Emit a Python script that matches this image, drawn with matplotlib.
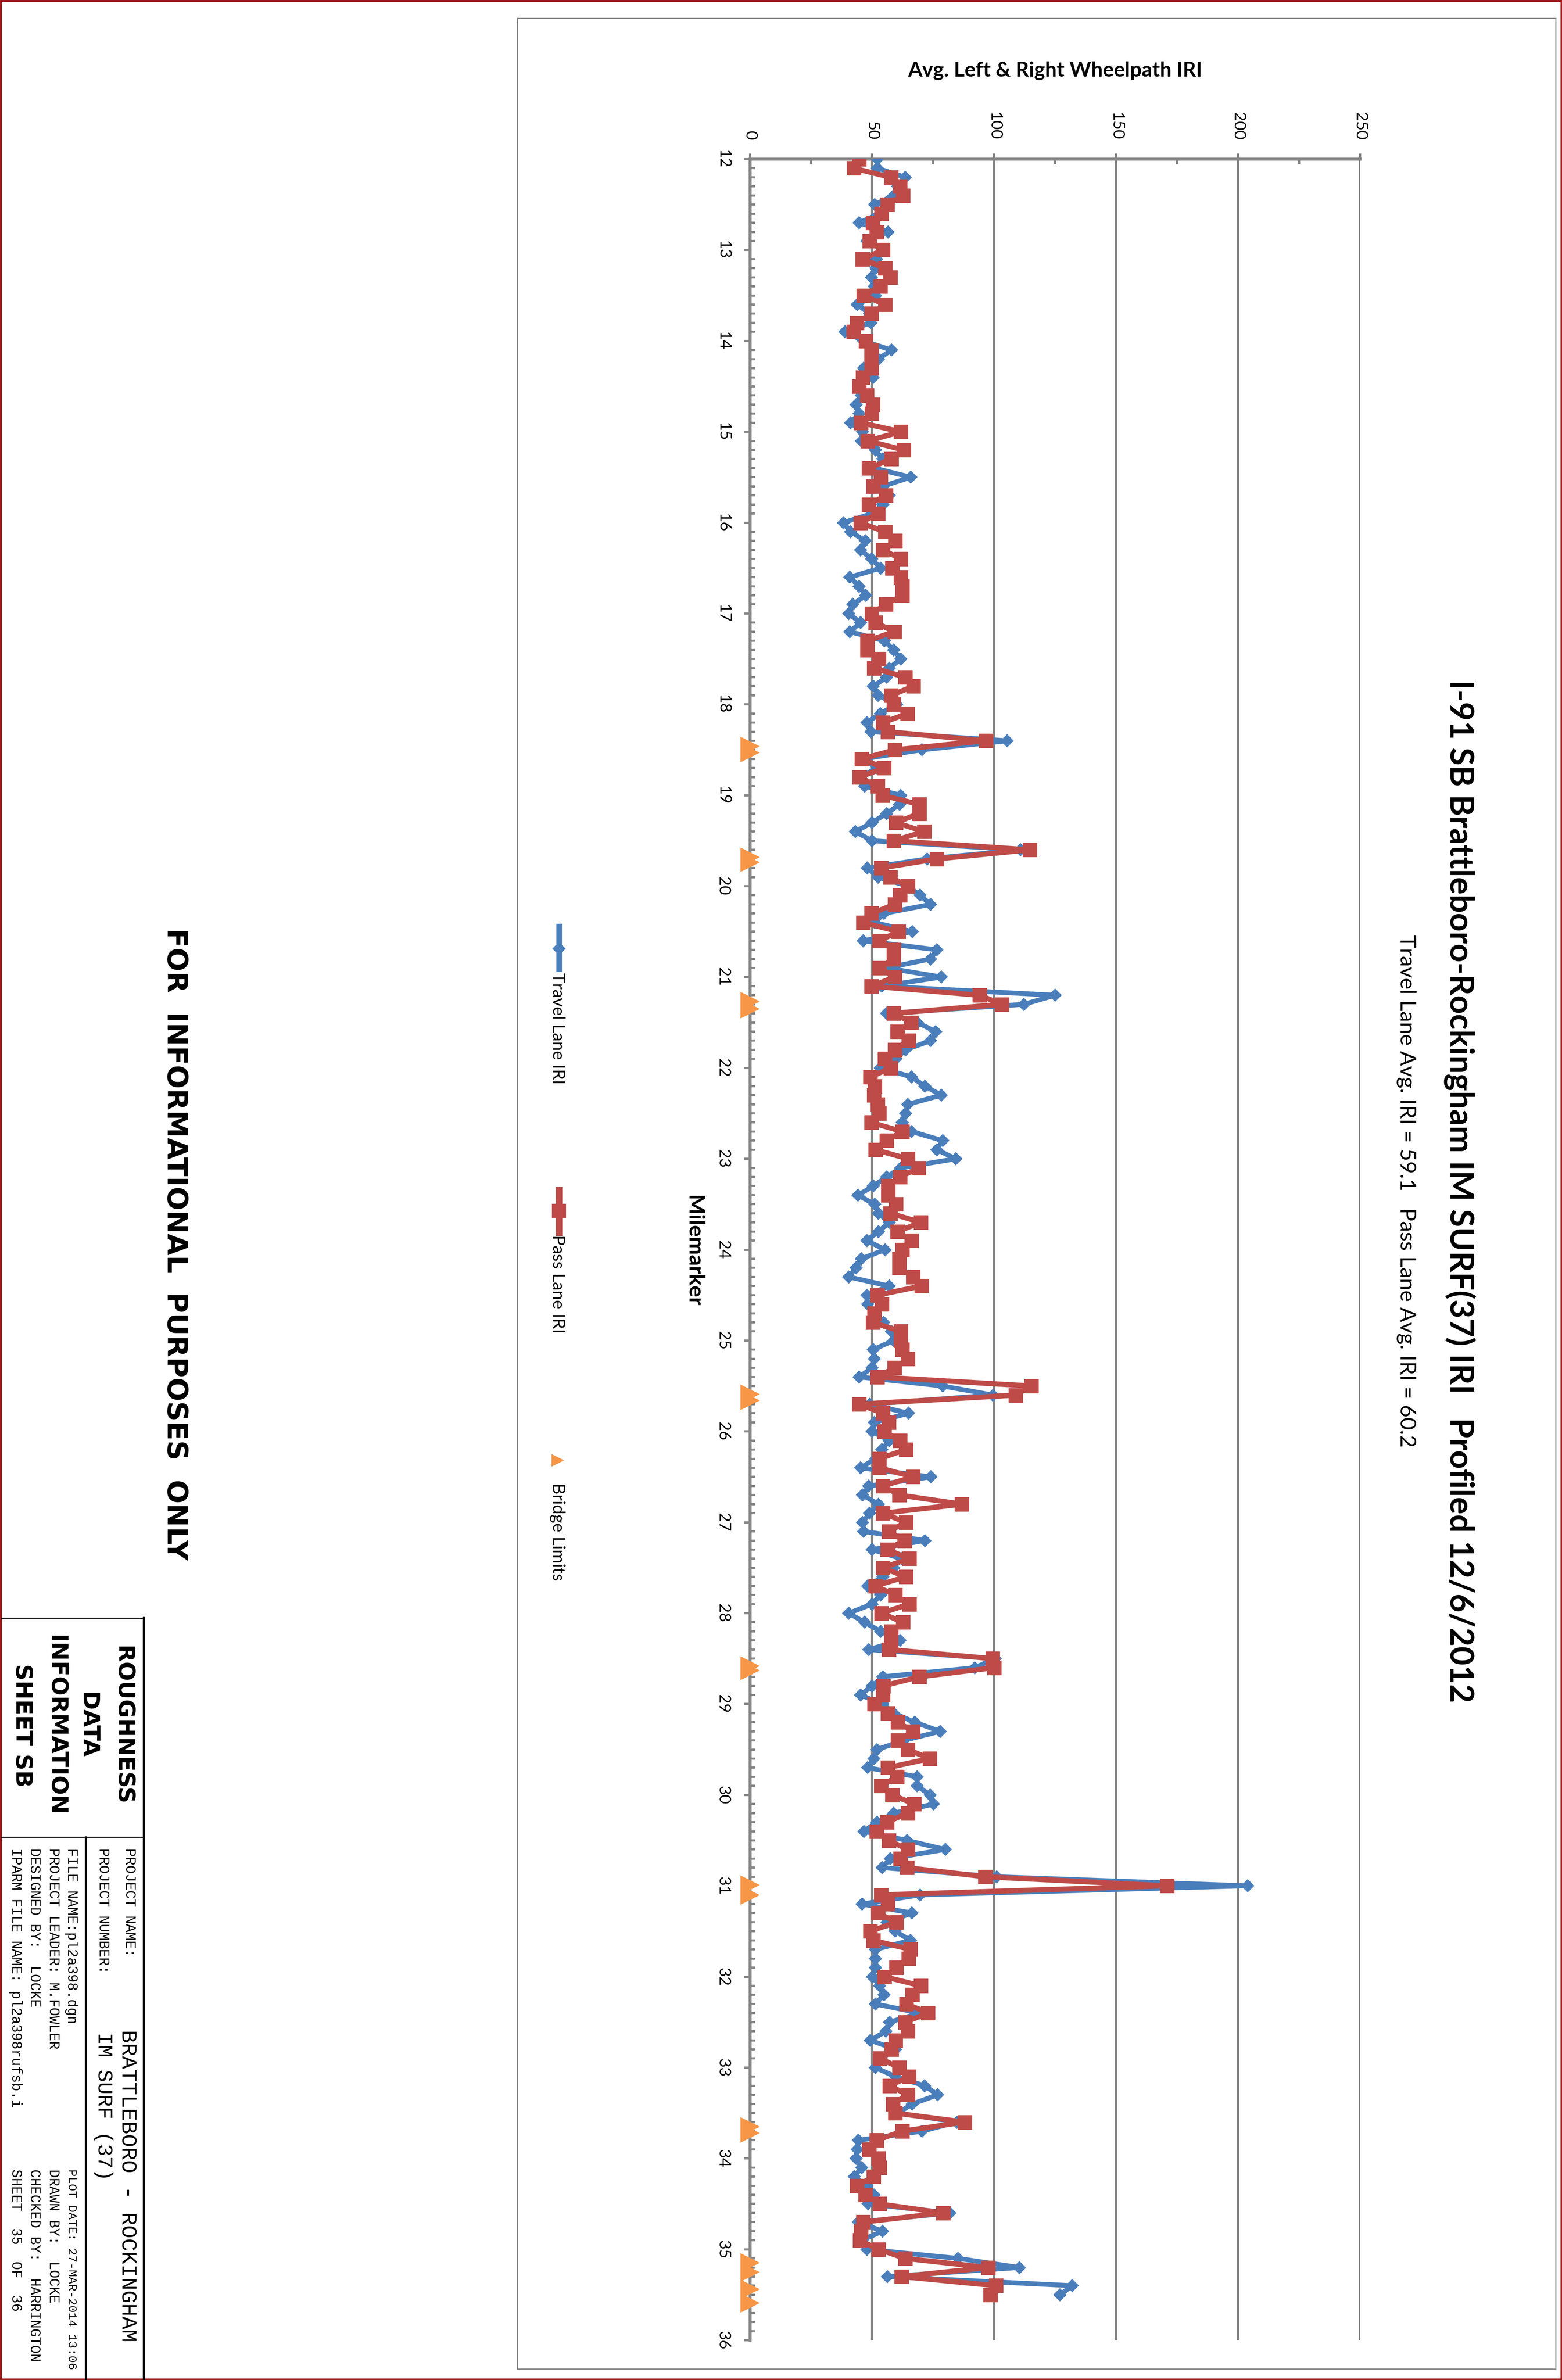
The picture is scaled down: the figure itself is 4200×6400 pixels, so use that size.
import matplotlib
matplotlib.use('Agg')
import matplotlib.pyplot as plt
from matplotlib.lines import Line2D
from matplotlib.patches import Rectangle
from matplotlib.ticker import MultipleLocator

# avg left & right wheelpath IRI, one reading every 0.1 mile from MM 12.0 to 35.5
travel_iri = [
    52.2, 52.2, 63.6, 60.5, 58.8, 51.0, 53.0, 44.7, 56.6, 47.8,   # 12
    54.4, 51.8, 51.5, 49.7, 50.9, 51.3, 43.9, 49.0, 49.6, 38.8,   # 13
    46.5, 57.9, 52.6, 46.5, 50.4, 44.3, 45.6, 43.4, 44.7, 41.2,   # 14
    46.0, 45.6, 51.3, 54.4, 51.0, 65.8, 54.4, 57.0, 54.4, 50.0,   # 15
    38.2, 41.2, 47.2, 45.2, 49.8, 53.5, 40.8, 44.7, 47.4, 42.1,   # 16
    40.4, 45.2, 40.9, 55.0, 58.8, 61.8, 57.0, 56.0, 50.5, 52.5,   # 17
    60.0, 53.4, 47.8, 49.5, 105.4, 70.4, 46.0, 52.0, 45.0, 47.0,  # 18
    61.8, 61.3, 55.9, 50.0, 43.1, 50.0, 110.8, 72.5, 48.0, 52.5,  # 19
    64.7, 69.6, 74.0, 54.9, 51.0, 66.5, 46.3, 76.5, 74.0, 56.0,   # 20
    78.4, 53.9, 125.0, 112.2, 55.9, 68.6, 76.0, 74.0, 63.7, 59.8, # 21
    53.4, 66.2, 71.6, 78.4, 64.7, 63.7, 62.3, 66.2, 78.9, 76.5,   # 22
    84.3, 61.8, 55.9, 50.5, 44.2, 51.0, 52.6, 57.0, 52.6, 47.8,   # 23
    55.3, 45.6, 43.4, 40.4, 57.0, 47.8, 48.2, 50.9, 54.8, 57.9,   # 24
    58.8, 50.4, 50.9, 50.0, 44.7, 78.9, 99.6, 49.1, 64.9, 50.9,   # 25
    50.0, 57.0, 54.0, 51.5, 45.2, 74.1, 48.7, 46.1, 52.6, 49.0,   # 26
    46.1, 46.5, 71.7, 50.0, 62.0, 58.8, 54.4, 48.2, 53.5, 50.0,   # 27
    40.4, 46.9, 53.5, 61.4, 48.7, 100.4, 92.1, 54.4, 50.0, 45.2,  # 28
    54.4, 58.8, 67.5, 77.9, 63.0, 52.0, 50.7, 48.2, 68.4, 68.4,   # 29
    73.8, 75.2, 58.9, 52.0, 46.6, 64.3, 80.0, 57.5, 54.1, 101.0,  # 30
    203.9, 69.7, 45.9, 66.3, 56.1, 59.5, 65.7, 51.4, 51.4, 51.4,  # 31
    50.2, 53.0, 54.9, 51.3, 69.5, 57.2, 55.7, 49.3, 59.6, 53.7,   # 32
    51.3, 59.6, 71.5, 76.9, 66.5, 60.6, 84.7, 70.5, 44.4, 43.9,   # 33
    43.4, 45.7, 42.7, 47.8, 50.8, 48.3, 81.8, 44.4, 54.2, 45.9,   # 34
    47.8, 85.2, 110.3, 56.2, 132.0, 127.0,                        # 35
]

pass_iri = [
    44.7, 42.5, 57.7, 61.4, 62.7, 56.3, 53.8, 50.3, 51.8, 49.0,   # 12
    54.4, 46.0, 55.3, 57.5, 53.3, 46.5, 55.3, 49.7, 43.7, 42.4,   # 13
    47.4, 49.7, 49.7, 49.7, 46.2, 44.7, 47.8, 50.3, 49.8, 45.4,   # 14
    61.8, 48.2, 63.0, 57.9, 48.7, 53.5, 50.4, 55.7, 48.7, 52.5,   # 15
    45.2, 55.3, 59.4, 54.4, 61.8, 58.3, 61.8, 62.3, 62.3, 55.7,   # 16
    49.8, 51.3, 59.2, 48.0, 48.0, 52.8, 50.7, 63.6, 66.9, 57.8,   # 17
    58.8, 64.5, 54.4, 56.4, 96.6, 59.3, 45.8, 54.9, 44.8, 52.3,   # 18
    54.2, 69.3, 69.3, 59.8, 71.3, 58.8, 114.7, 76.5, 53.7, 57.4,  # 19
    64.7, 61.4, 59.3, 49.7, 46.3, 60.8, 52.9, 58.8, 58.8, 52.9,   # 20
    59.3, 49.7, 94.1, 103.2, 58.8, 66.0, 60.3, 64.9, 59.3, 55.2,  # 21
    57.6, 49.3, 51.0, 50.8, 52.3, 52.9, 49.7, 62.3, 55.9, 51.3,   # 22
    64.7, 69.1, 61.5, 56.6, 56.5, 59.7, 57.5, 70.0, 60.3, 66.2,   # 23
    62.3, 61.2, 61.2, 66.8, 70.2, 52.2, 53.9, 50.9, 50.3, 61.7,   # 24
    61.7, 62.3, 64.7, 59.2, 52.2, 115.3, 108.8, 44.7, 54.4, 56.8, # 25
    55.0, 61.4, 63.8, 52.9, 52.9, 66.8, 54.4, 61.2, 86.8, 54.4,   # 26
    63.8, 56.8, 63.2, 56.3, 65.2, 54.4, 63.8, 51.3, 59.4, 65.2,   # 27
    53.8, 62.7, 57.7, 57.7, 56.8, 99.4, 100.0, 69.3, 54.6, 54.4,  # 28
    50.9, 56.4, 60.5, 66.8, 60.5, 64.6, 73.6, 56.4, 60.2, 53.7,   # 29
    58.2, 67.3, 64.6, 56.1, 51.8, 56.8, 64.6, 61.6, 64.3, 96.3,   # 30
    170.9, 53.7, 56.4, 52.5, 59.9, 49.3, 50.4, 65.7, 65.0, 59.9,  # 31
    55.0, 70.0, 66.5, 64.1, 72.9, 63.6, 64.6, 59.6, 57.9, 53.2,   # 32
    61.1, 65.1, 57.2, 64.6, 58.5, 59.4, 87.9, 62.4, 51.8, 48.8,   # 33
    52.6, 53.0, 50.6, 43.7, 47.3, 53.0, 79.1, 46.4, 45.4, 44.9,   # 34
    52.6, 63.6, 97.5, 62.1, 100.8, 98.5,                          # 35
]

# milemarker of each reading (0.1 mile category steps)
milemarker = [round(12 + i / 10, 1) for i in range(len(travel_iri))]

# bridge start / end milemarkers, drawn on the zero line
bridge_limits = [18.46, 18.53, 19.68, 19.74, 21.27, 21.35, 25.59, 25.66,
                 28.58, 28.63, 30.99, 31.10, 33.65, 33.72, 35.15, 35.25,
                 35.44, 35.59]
bridge_iri = [0] * len(bridge_limits)

iri_ticks = [0, 50, 100, 150, 200, 250]
iri_minor = [25, 75, 125, 175, 225]
mile_ticks = list(range(12, 37))

title = 'I-91 SB Brattleboro-Rockingham IM SURF(37) IRI   Profiled 12/6/2012'
subtitle = 'Travel Lane Avg. IRI = 59.1   Pass Lane Avg. IRI = 60.2'

BLUE = '#4A7EBB'
RED = '#BE4B48'
ORANGE = '#F79646'
GRID = '#878787'

W, H = 4200, 6400
L, R, T, B = 2017, 3657, 428, 6293   # plot area in pixels


def px(v):
    # pixels -> points at 100 dpi
    return v * 0.72


plt.rcParams['font.family'] = ['Lato', 'DejaVu Sans']

fig = plt.figure(figsize=(W / 100, H / 100), dpi=100)

page = fig.add_axes([0, 0, 1, 1])
page.set_xlim(0, W)
page.set_ylim(H, 0)
page.axis('off')

ax = fig.add_axes([L / W, 1 - B / H, (R - L) / W, (B - T) / H])

ax.plot(travel_iri, milemarker, color=BLUE, lw=px(13), marker='D',
        ms=px(36) / 1.414, mew=0, solid_joinstyle='round', zorder=3)
ax.plot(pass_iri, milemarker, color=RED, lw=px(14), marker='s',
        ms=px(39), mew=0, solid_joinstyle='round', zorder=4)
ax.plot(bridge_iri, bridge_limits, ls='none', marker='>', ms=px(52),
        color=ORANGE, mew=0, clip_on=False, zorder=5)

ax.set_xlim(0, 250)
ax.set_ylim(36, 12)
ax.set_xticks(iri_ticks)
ax.set_xticks(iri_minor, minor=True)
ax.set_yticks(mile_ticks)
ax.yaxis.set_minor_locator(MultipleLocator(0.1))
ax.xaxis.tick_top()

ax.tick_params(axis='x', which='major', direction='out', length=px(15),
               width=px(6), color=GRID, labelsize=31, labelrotation=-90,
               pad=px(36), labeltop=True, labelbottom=False)
ax.tick_params(axis='x', which='minor', direction='in', length=px(13),
               width=px(6), color=GRID)
ax.tick_params(axis='y', which='major', direction='out', length=px(17),
               width=px(6), color=GRID, labelsize=31, labelrotation=-90,
               pad=px(37))
ax.tick_params(axis='y', which='minor', direction='in', length=px(13),
               width=px(6), color=GRID)
for lbl in ax.get_yticklabels():
    lbl.set_verticalalignment('center')

for side in ['right', 'bottom']:
    ax.spines[side].set_visible(False)
for side in ['left', 'top']:
    ax.spines[side].set_color(GRID)
    ax.spines[side].set_linewidth(px(8))
ax.grid(axis='x', which='major', color=GRID, lw=px(6))
ax.set_axisbelow(True)

# titles
page.text(3925, 3203, title, rotation=-90, ha='center', va='center',
          fontsize=63, fontweight='bold')
page.text(3782, 3203, subtitle, rotation=-90, ha='center', va='center',
          fontsize=42)
page.text(2837, 190, 'Avg. Left & Right Wheelpath IRI', ha='center',
          va='center', fontsize=40, fontweight='bold')
page.text(1865, 3364, 'Milemarker', rotation=-90, ha='center', va='center',
          fontsize=42, fontweight='bold')

# legend
page.add_line(Line2D([1503, 1503], [2491, 2606], color=BLUE, lw=px(15)))
page.plot([1503], [2551], marker='D', ms=px(36) / 1.414, color=BLUE, mew=0)
page.add_line(Line2D([1503, 1503], [3200, 3315], color=RED, lw=px(17)))
page.plot([1503], [3256], marker='s', ms=px(38), color=RED, mew=0)
page.plot([1500], [3927], marker='>', ms=px(34), color=ORANGE, mew=0)
page.text(1499, 2616, 'Travel Lane IRI', rotation=-90, ha='center', va='top',
          fontsize=33)
page.text(1499, 3321, 'Pass Lane IRI', rotation=-90, ha='center', va='top',
          fontsize=33)
page.text(1499, 3988, 'Bridge Limits', rotation=-90, ha='center', va='top',
          fontsize=33)

# chart frame and page border
page.add_patch(Rectangle((1391, 49), 4183 - 1391, 6370 - 49, fill=False,
                         ec=GRID, lw=px(3)))
page.add_patch(Rectangle((2, 2), W - 4, H - 4, fill=False, ec='#9B1B1B',
                         lw=px(5)))

page.text(470, 3346, 'FOR  INFORMATIONAL  PURPOSES  ONLY', rotation=-90,
          ha='center', va='center', fontsize=54, fontweight='bold',
          family='DejaVu Sans')

# title block
page.add_line(Line2D([4, 388], [4351, 4351], color='black', lw=px(3)))
page.add_line(Line2D([4, 388], [4940, 4940], color='black', lw=px(3)))
page.add_line(Line2D([387, 387], [4351, 6400], color='black', lw=px(6)))
page.add_line(Line2D([230, 230], [4940, 6400], color='black', lw=px(5)))

for x, s in [(330, 'ROUGHNESS'), (235, 'DATA'), (150, 'INFORMATION'),
             (59, 'SHEET SB')]:
    page.text(x, 4640, s, rotation=-90, ha='center', va='center',
              fontsize=44, fontweight='bold', family='DejaVu Sans')

mono = dict(rotation=-90, ha='center', va='top', family='Liberation Mono')
page.text(348, 4970, 'PROJECT NAME:', fontsize=27, **mono)
page.text(277, 4970, 'PROJECT NUMBER:', fontsize=27, **mono)
page.text(342, 5458, 'BRATTLEBORO - ROCKINGHAM', fontsize=42, **mono)
page.text(278, 5465, 'IM SURF (37)', fontsize=40, **mono)
page.text(192, 4970, 'FILE NAME:pl2a398.dgn', fontsize=27, **mono)
page.text(143, 4970, 'PROJECT LEADER: M.FOWLER', fontsize=27, **mono)
page.text(92, 4970, 'DESIGNED BY:  LOCKE', fontsize=27, **mono)
page.text(42, 4970, 'IPARM FILE NAME: pl2a398rufsb.i', fontsize=27, **mono)
page.text(192, 5833, 'PLOT DATE: 27-MAR-2014 13:06', fontsize=23, **mono)
page.text(143, 5833, 'DRAWN BY:  LOCKE', fontsize=27, **mono)
page.text(92, 5833, 'CHECKED BY:  HARRINGTON', fontsize=27, **mono)
page.text(42, 5833, 'SHEET  35  OF  36', fontsize=27, **mono)

fig.savefig('out.png', dpi=100)
